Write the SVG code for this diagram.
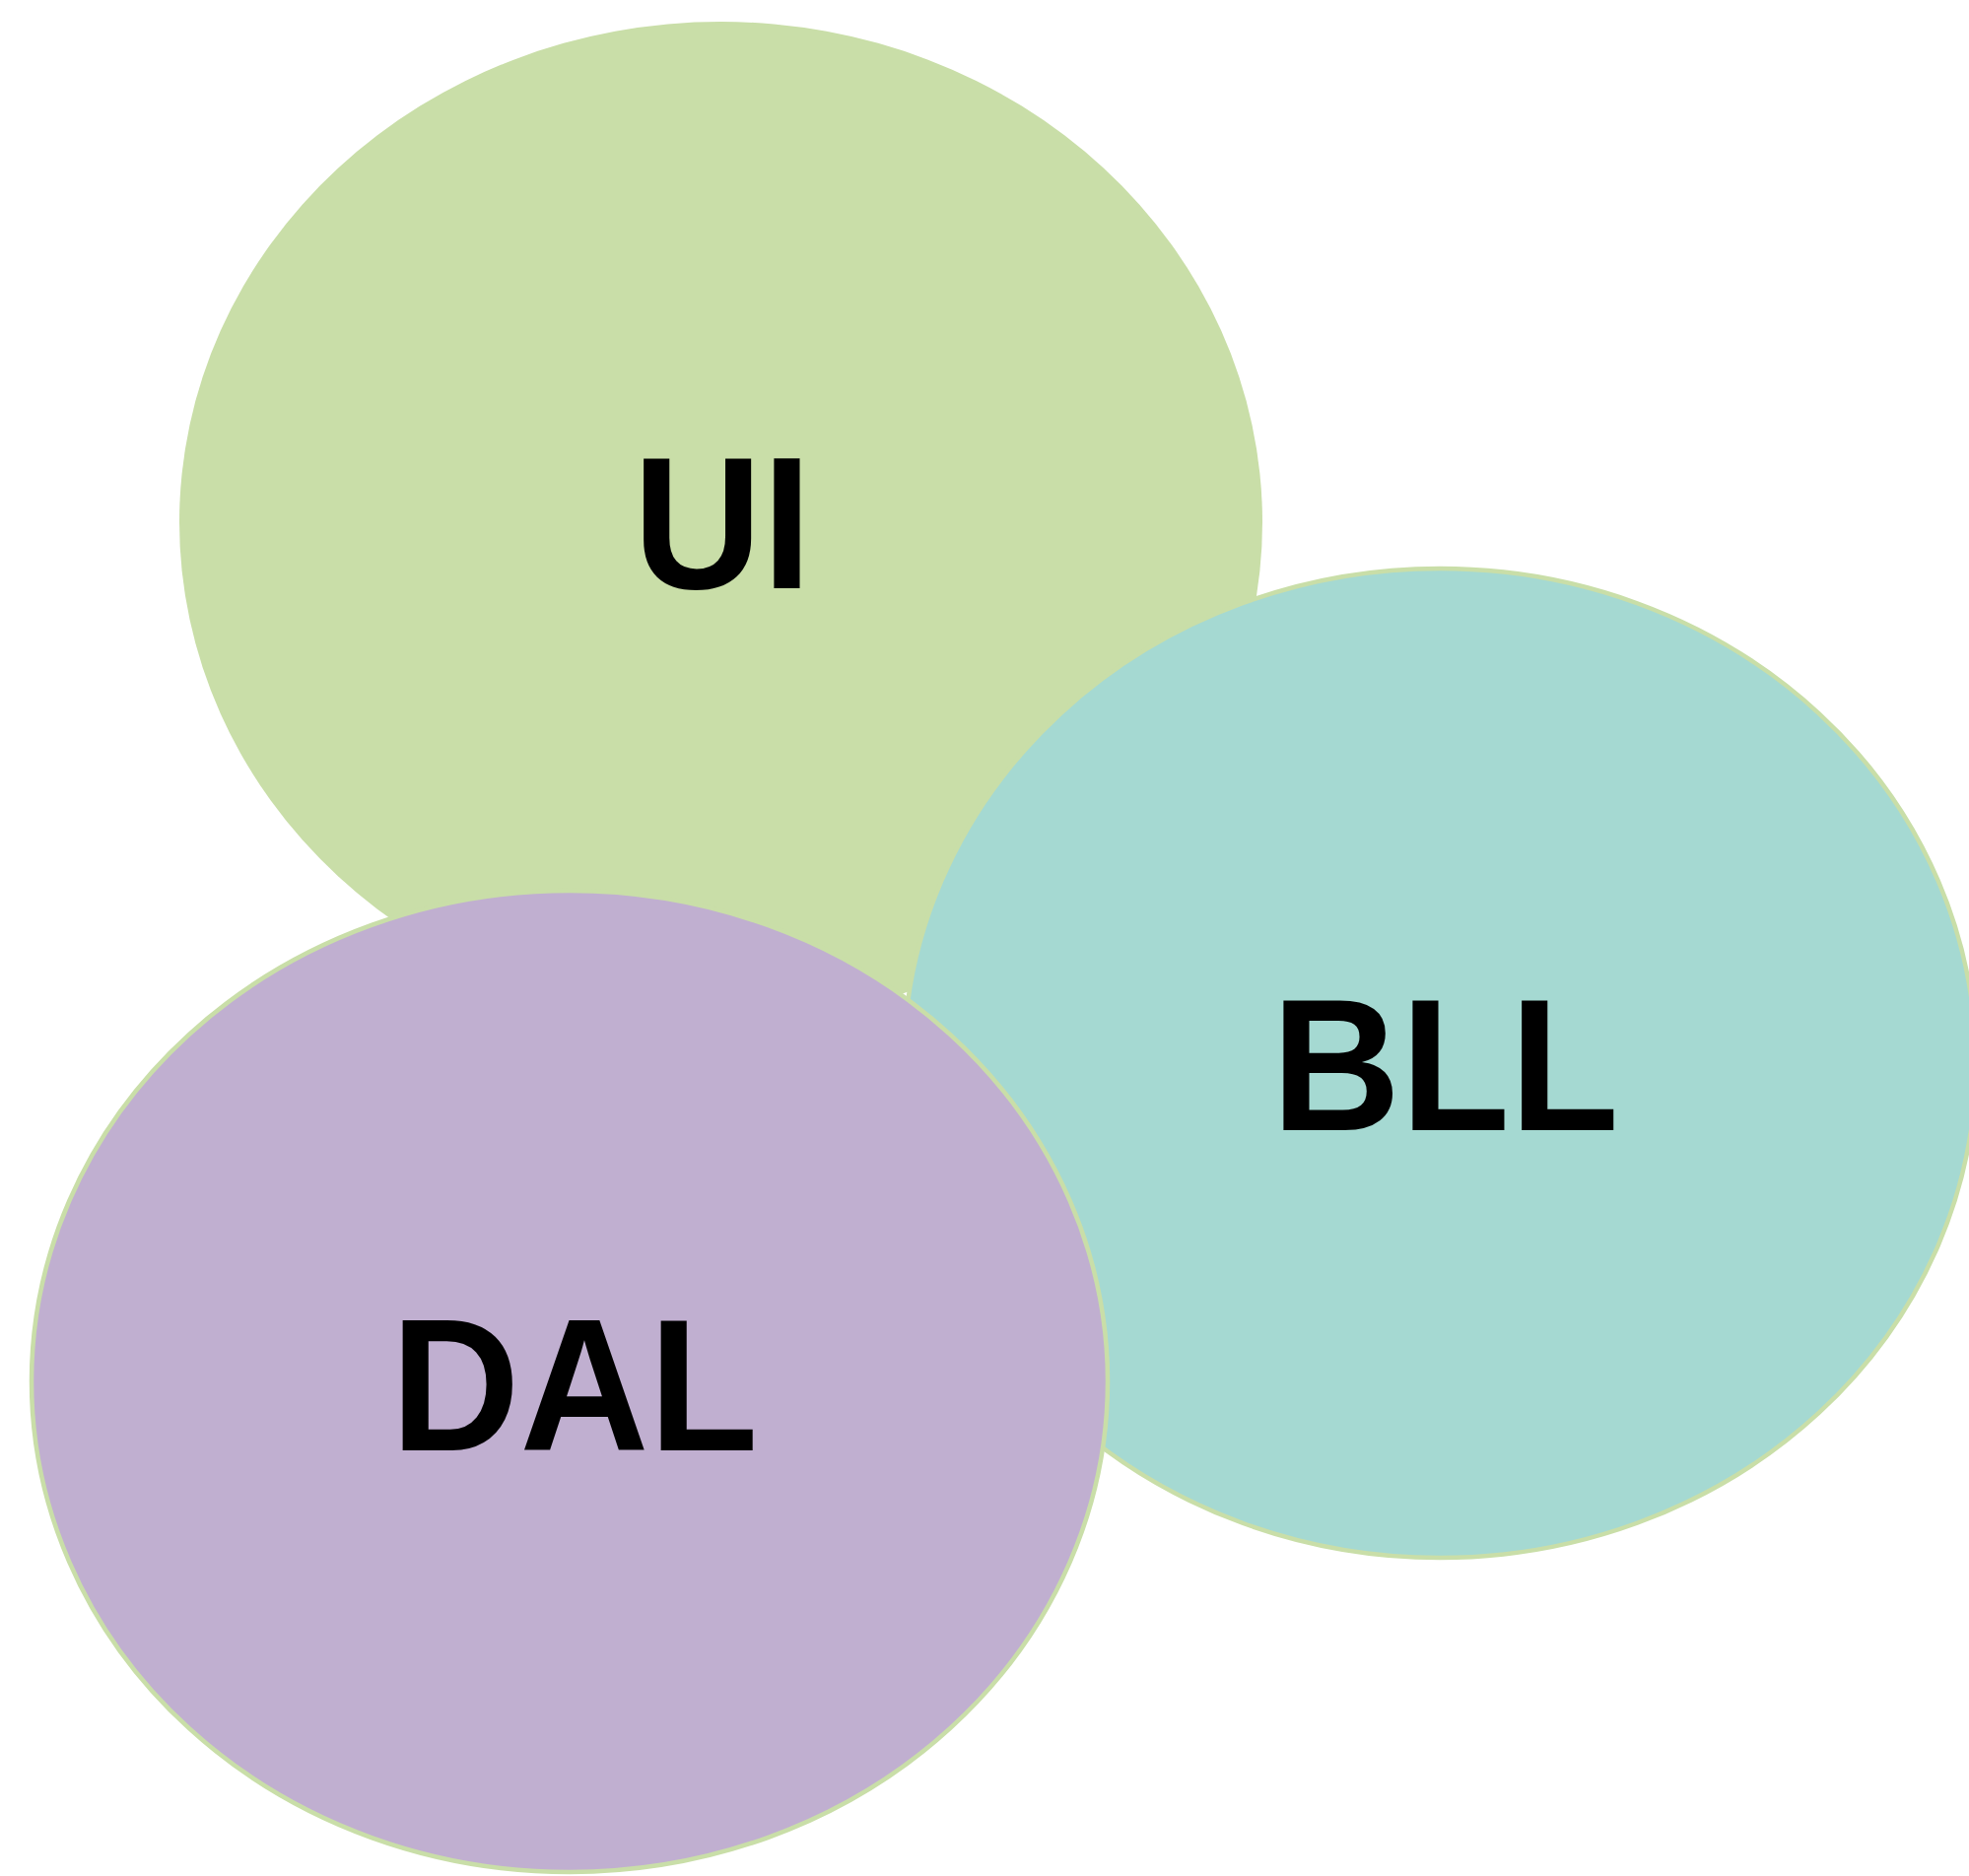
<svg xmlns="http://www.w3.org/2000/svg" width="1998" height="1904" viewBox="0 0 1998 1904">
<style>
.lbl{font-family:"Liberation Sans",Arial,sans-serif;font-weight:bold;font-size:191px;fill:#000;text-anchor:middle}
.st{stroke:#c9dea8;stroke-width:4.5}
</style>
<rect width="1998" height="1904" fill="#fff"/>
<g id="ui">
<ellipse cx="731.5" cy="530" rx="549.5" ry="508" fill="#c9dea8"/>
<text class="lbl" transform="scale(0.95,1)" x="771.6" y="597">UI</text>
</g>
<g id="bll">
<ellipse class="st" cx="1461" cy="1079" rx="544" ry="502" fill="#a5d9d2"/>
<text class="lbl" transform="scale(0.95,1)" x="1543.8" y="1147">BLL</text>
</g>
<g id="dal">
<ellipse class="st" cx="578" cy="1402" rx="546" ry="498" fill="#c0afd0"/>
<text class="lbl" transform="scale(0.95,1)" x="613.7" y="1472">DAL</text>
</g>
<g id="connectors"></g>
</svg>
